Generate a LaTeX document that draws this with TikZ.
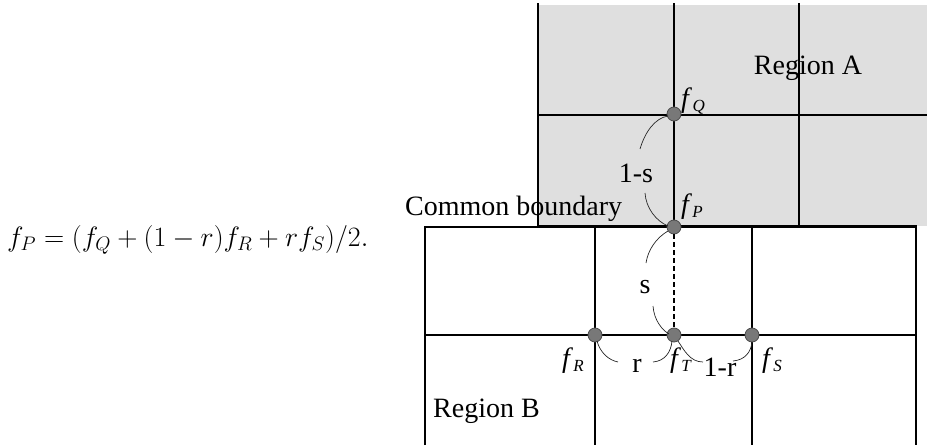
\RequirePackage{fix-cm}
\documentclass[tikz,border=0pt]{standalone}
\usepackage{fontspec}
\setmainfont{Liberation Serif}
\newcommand{\flab}[1]{\textit{f}\kern0.3pt{\fontsize{17}{17}\selectfont\raisebox{-4pt}{\textit{#1}}}}
\definecolor{regA}{RGB}{223,223,223}
\definecolor{dotfill}{RGB}{120,120,120}
\definecolor{dotedge}{RGB}{75,75,75}
\tikzset{
  grid/.style={line width=1.8pt, black},
  bound/.style={line width=3.8pt, black},
  arc/.style={line width=0.7pt, black!85},
  pt/.style={circle, fill=dotfill, draw=dotedge, line width=0.8pt, minimum size=14pt, inner sep=0pt},
  lbl/.style={font=\fontsize{28}{32}\selectfont, inner sep=0pt},
}
\begin{document}
\begin{tikzpicture}[x=1pt,y=-1pt]
\useasboundingbox (0,0) rectangle (927,447);
% Region A background
\fill[regA] (538,5) rectangle (927,226);
% Region A grid
\draw[grid] (538,3) -- (538,226);
\draw[grid] (674,3) -- (674,226);
\draw[grid] (799,3) -- (799,226);
\draw[grid] (538,115) -- (927,115);
% Region B grid
\draw[grid] (425,445) -- (425,227) -- (538,227);
\draw[bound] (538,226.5) -- (916,226.5);
\draw[grid] (595,227) -- (595,445);
\draw[grid] (752,227) -- (752,445);
\draw[grid] (916,225) -- (916,445);
\draw[grid] (425,335) -- (916,335);
% points
\node[pt] (Q) at (674,114) {};
\node[pt] (P) at (674,227) {};
\node[pt] (R) at (595,335) {};
\node[pt] (T) at (674,335) {};
\node[pt] (S) at (752,335) {};
\draw[line width=2.4pt, dash pattern=on 5pt off 3pt] (P) -- (T);
% arcs
\draw[arc] (668,116) .. controls (655,118) and (645,132) .. (640,149);
\draw[arc] (645,193) .. controls (646,208) and (656,221) .. (668,226);
\draw[arc] (668,231) .. controls (656,238) and (648,250) .. (646,263);
\draw[arc] (653,306) .. controls (654,320) and (662,330) .. (669,334);
\draw[arc] (597,341) .. controls (600,352) and (608,360) .. (618,362);
\draw[arc] (653,362) .. controls (665,361) and (671,352) .. (672,341);
\draw[arc] (678,341) .. controls (684,350) and (690,362) .. (703,362);
\draw[arc] (733,361) .. controls (745,360) and (751,352) .. (752,342);
% labels
\node[lbl] (fQ) at (693,101) {\flab{Q}};
\node[lbl] (fP) at (692,207) {\flab{P}};
\node[lbl] (fR) at (573,361) {\flab{R}};
\node[lbl] (fT) at (681,361) {\flab{T}};
\node[lbl] (fS) at (772,361) {\flab{S}};
\node[lbl, anchor=base] (rA) at (808,74) {Region A};
\node[lbl, anchor=base west] (rB) at (433,417) {Region B};
\node[lbl, anchor=base west] (cb) at (405,215) {Common boundary};
\node[lbl, anchor=base] (oms) at (636,182) {1-s};
\node[lbl, anchor=base] (s) at (645,293) {s};
\node[lbl, anchor=base] (r) at (637,372) {r};
\node[lbl, anchor=base] (omr) at (720,376) {1-r};
% formula
\node[anchor=west, inner sep=0pt, font=\fontsize{28}{33}\selectfont] (eq) at (7,240) {$f_P = (f_Q + (1-r)f_R + r f_S)/2.$};
\end{tikzpicture}
\end{document}
